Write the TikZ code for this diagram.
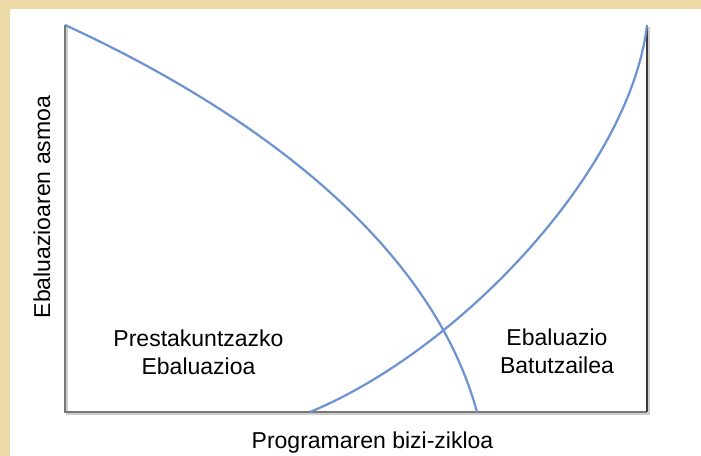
\documentclass[tikz,border=0pt]{standalone}
\usepackage{fontspec}
\setmainfont{Liberation Sans}
\definecolor{parch}{RGB}{236,218,166}
\definecolor{curveblue}{RGB}{108,146,208}
\definecolor{axisgray}{RGB}{120,120,120}
\definecolor{axisdark}{RGB}{60,60,60}
\definecolor{shadowgray}{RGB}{205,205,205}
\begin{document}
\begin{tikzpicture}[x=1bp,y=-1bp,
  lbl/.style={font=\fontsize{23bp}{27bp}\selectfont, inner sep=0pt, text=black},
  axisline/.style={draw=axisgray, line width=2bp},
  axisright/.style={draw=axisdark, line width=1.6bp},
  axisshadow/.style={draw=shadowgray, line width=2bp},
  curveline/.style={draw=curveblue, line width=2.2bp}]
\useasboundingbox (0,0) rectangle (701,456);
\fill[parch] (0,0) rectangle (701,456);
\fill[white] (10,9) rectangle (701,456);
\coordinate (T) at (65,25);
\coordinate (O) at (65,412);
\coordinate (R) at (647,412);
\coordinate (RT) at (647,25);
\coordinate (E1) at (477,412);
\coordinate (S2) at (310,412);
% shadows
\draw[axisshadow] ([shift={(2,2)}]T) -- ([shift={(2,2)}]O) -- ([shift={(2,2)}]R) -- ([shift={(2,2)}]RT);
% axes
\draw[axisline] (T) -- (O) -- (R);
\draw[axisright] (R) -- (RT);
% curves
\draw[curveline] (T) .. controls (250,110) and (430,240) .. (E1);
\draw[curveline] (S2) .. controls (460,350) and (630,170) .. (RT);
% labels
\node[lbl, align=center, anchor=base] (prep) at (198.5,374) {Prestakuntzazko\\Ebaluazioa};
\node[lbl, align=center, anchor=base] (sum) at (557,373) {Ebaluazio\\Batutzailea};
\node[lbl, anchor=base] (xl) at (372.5,448) {Programaren bizi-zikloa};
\node[lbl, rotate=90, anchor=base] (yl) at (50,207) {Ebaluazioaren asmoa};
\end{tikzpicture}
\end{document}
